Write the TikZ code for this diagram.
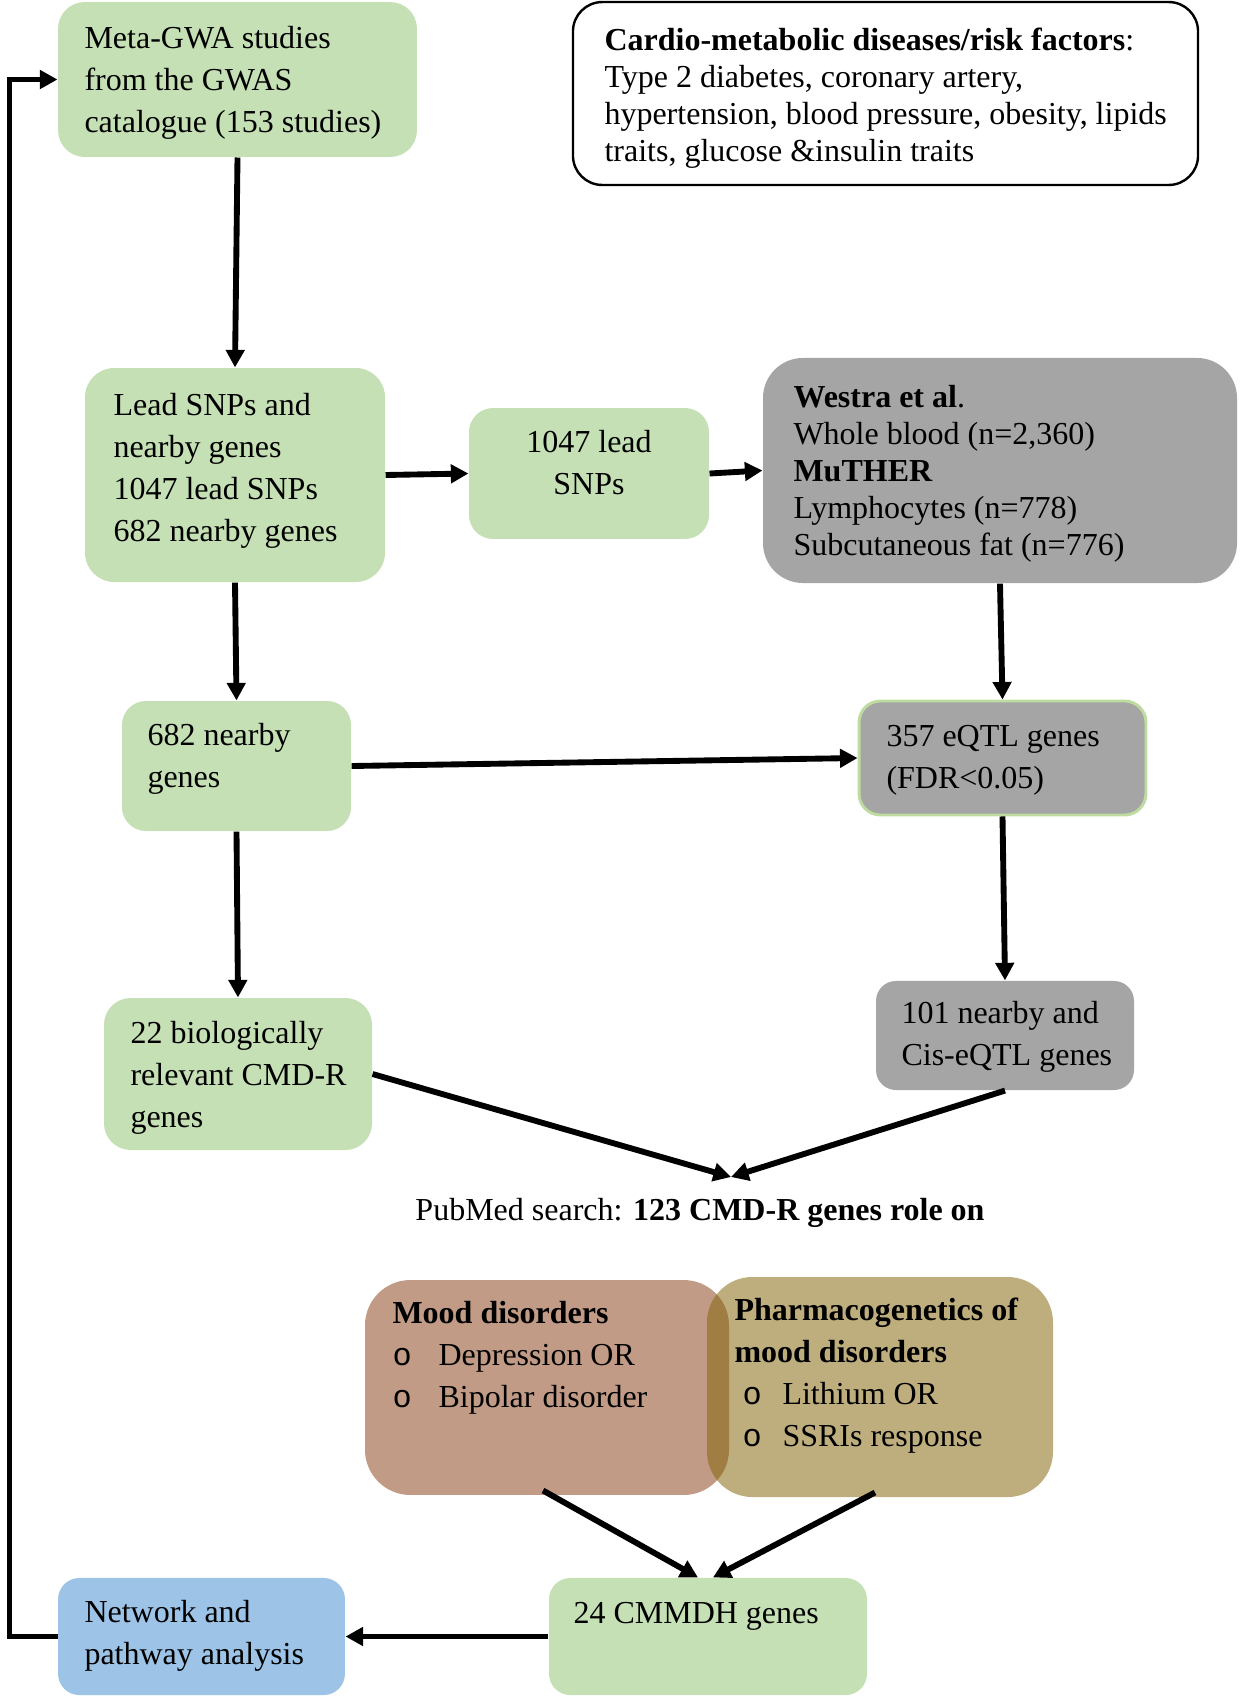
\documentclass[tikz,border=0pt]{standalone}
\usepackage{fontspec}
\setmainfont{Liberation Serif}
\newfontfamily\bulletfont{Liberation Mono}
\usepackage{tikz}
\usetikzlibrary{positioning,calc,arrows.meta}
\definecolor{boxgreen}{HTML}{C5E0B4}
\definecolor{boxgrey}{HTML}{A5A5A5}
\definecolor{boxblue}{HTML}{9DC3E6}
\definecolor{moodbrown}{RGB}{193,155,133}
\definecolor{pharmolive}{RGB}{130,99,7}
\definecolor{eqtlrim}{RGB}{190,220,160}
\newcommand{\bul}[1][17.25pt]{\makebox[#1][l]{\bulletfont o}}

\begin{document}
\begin{tikzpicture}[x=0.375pt,y=-0.375pt,
  box/.style={rectangle,inner sep=0pt},
  gbox/.style={box,fill=boxgreen},
  grbox/.style={box,fill=boxgrey},
  txt/.style={anchor=north west,inner sep=0pt,align=left,font=\fontsize{12}{15.75}\selectfont},
  tighttxt/.style={txt,font=\fontsize{12}{13.875}\selectfont},
  arr/.style={line width=2.2pt,-{Triangle[length=6.6pt,width=6.8pt]}}]
\useasboundingbox (0,0) rectangle (1240,1697);

% boxes
\node[gbox,rounded corners=10pt,minimum width=134.6pt,minimum height=58.1pt] (meta) at (237.5,79.5) {};
\node[box,draw=black,line width=0.9pt,fill=white,rounded corners=11pt,minimum width=234.4pt,minimum height=68.6pt] (cardio) at (885.5,93.5) {};
\node[gbox,rounded corners=11pt,minimum width=112.5pt,minimum height=80.25pt] (lead) at (235,475) {};
\node[gbox,rounded corners=9pt,minimum width=90pt,minimum height=49.1pt] (snps) at (589,473.5) {};
\node[grbox,rounded corners=15pt,minimum width=177.75pt,minimum height=84.4pt] (westra) at (1000,470.5) {};
\node[gbox,rounded corners=9pt,minimum width=85.9pt,minimum height=48.75pt] (near) at (236.5,766) {};
\node[grbox,draw=eqtlrim,line width=1.1pt,rounded corners=8pt,minimum width=107.6pt,minimum height=42.75pt] (eqtl) at (1002.5,758) {};
\node[gbox,rounded corners=10pt,minimum width=100.5pt,minimum height=57pt] (bio) at (238,1074) {};
\node[grbox,rounded corners=7.5pt,minimum width=96.75pt,minimum height=40.9pt] (cis) at (1005,1035.5) {};
\node[box,fill=moodbrown,rounded corners=17pt,minimum width=136.5pt,minimum height=80.6pt] (mood) at (547,1387.5) {};
\node[box,fill=pharmolive,fill opacity=0.52,rounded corners=17pt,minimum width=129.75pt,minimum height=82.5pt] (pharm) at (880,1387) {};
\node[gbox,rounded corners=8pt,minimum width=119.25pt,minimum height=43.9pt] (cmmdh) at (708,1636.5) {};
\node[box,fill=boxblue,rounded corners=8pt,minimum width=107.6pt,minimum height=43.9pt] (net) at (201.5,1636.5) {};

% texts
\node[txt] (metaT) at (84,18.6) {\strut Meta-GWA studies\\from the GWAS\\catalogue (153 studies)};
\node[tighttxt] (cardioT) at (604,24) {\strut\textbf{Cardio-metabolic diseases/risk factors}:\\Type 2 diabetes, coronary artery,\\hypertension, blood pressure, obesity, lipids\\traits, glucose \&insulin traits};
\node[txt] (leadT) at (113,385.6) {\strut Lead SNPs and\\nearby genes\\1047 lead SNPs\\682 nearby genes};
\node[txt,anchor=north,align=center] (snpsT) at (589,422.6) {\strut 1047 lead\\SNPs};
\node[tighttxt] (westraT) at (793,381) {\strut\textbf{Westra et al}.\\Whole blood (n=2,360)\\\textbf{MuTHER}\\Lymphocytes (n=778)\\Subcutaneous fat (n=776)};
\node[txt] (nearT) at (147,715.6) {\strut 682 nearby\\genes};
\node[txt] (eqtlT) at (886,716.6) {\strut 357 eQTL genes\\(FDR<0.05)};
\node[txt] (bioT) at (130,1013.6) {\strut 22 biologically\\relevant CMD-R\\genes};
\node[txt] (cisT) at (901,993.6) {\strut 101 nearby and\\Cis-eQTL genes};
\node[txt,anchor=base] (pubT) at (700,1220) {PubMed search: \textbf{123 CMD-R genes role on}};
\node[txt] (moodT) at (392,1293.6) {\strut\textbf{Mood disorders}\\\bul Depression OR\\\bul Bipolar disorder};
\node[txt] (pharmT) at (734,1290.6) {\strut\textbf{Pharmacogenetics of}\\\textbf{mood disorders}\\\hspace*{3pt}\bul[15pt]Lithium OR\\\hspace*{3pt}\bul[15pt]SSRIs response};
\node[txt] (cmmdhT) at (573,1593.6) {\strut 24 CMMDH genes};
\node[txt] (netT) at (84,1592.6) {\strut Network and\\pathway analysis};

% arrows
\coordinate (hit) at (731,1177);
\draw[arr] (meta.south) -- (lead.north);
\draw[arr] (lead.east) -- (snps.west);
\draw[arr] (snps.east) -- (westra.west);
\draw[arr] (lead.south) -- (near.north);
\draw[arr] (westra.south) -- (eqtl.north);
\draw[arr] (near.east) -- (eqtl.west);
\draw[arr] (near.south) -- (bio.north);
\draw[arr] (eqtl.south) -- (cis.north);
\draw[arr] (bio.east) -- (hit);
\draw[arr] (cis.south) -- (hit);
\draw[arr] ($(mood.south)+(-4,-5)$) -- ($(cmmdh.north)+(-10,0)$);
\draw[arr] ($(pharm.south)+(-5,-5)$) -- ($(cmmdh.north)+(5,0)$);
\draw[arr] (cmmdh.west) -- (net.east);
\draw[arr] (net.west) -- ++(-48,0) |- (meta.west);
\end{tikzpicture}
\end{document}
